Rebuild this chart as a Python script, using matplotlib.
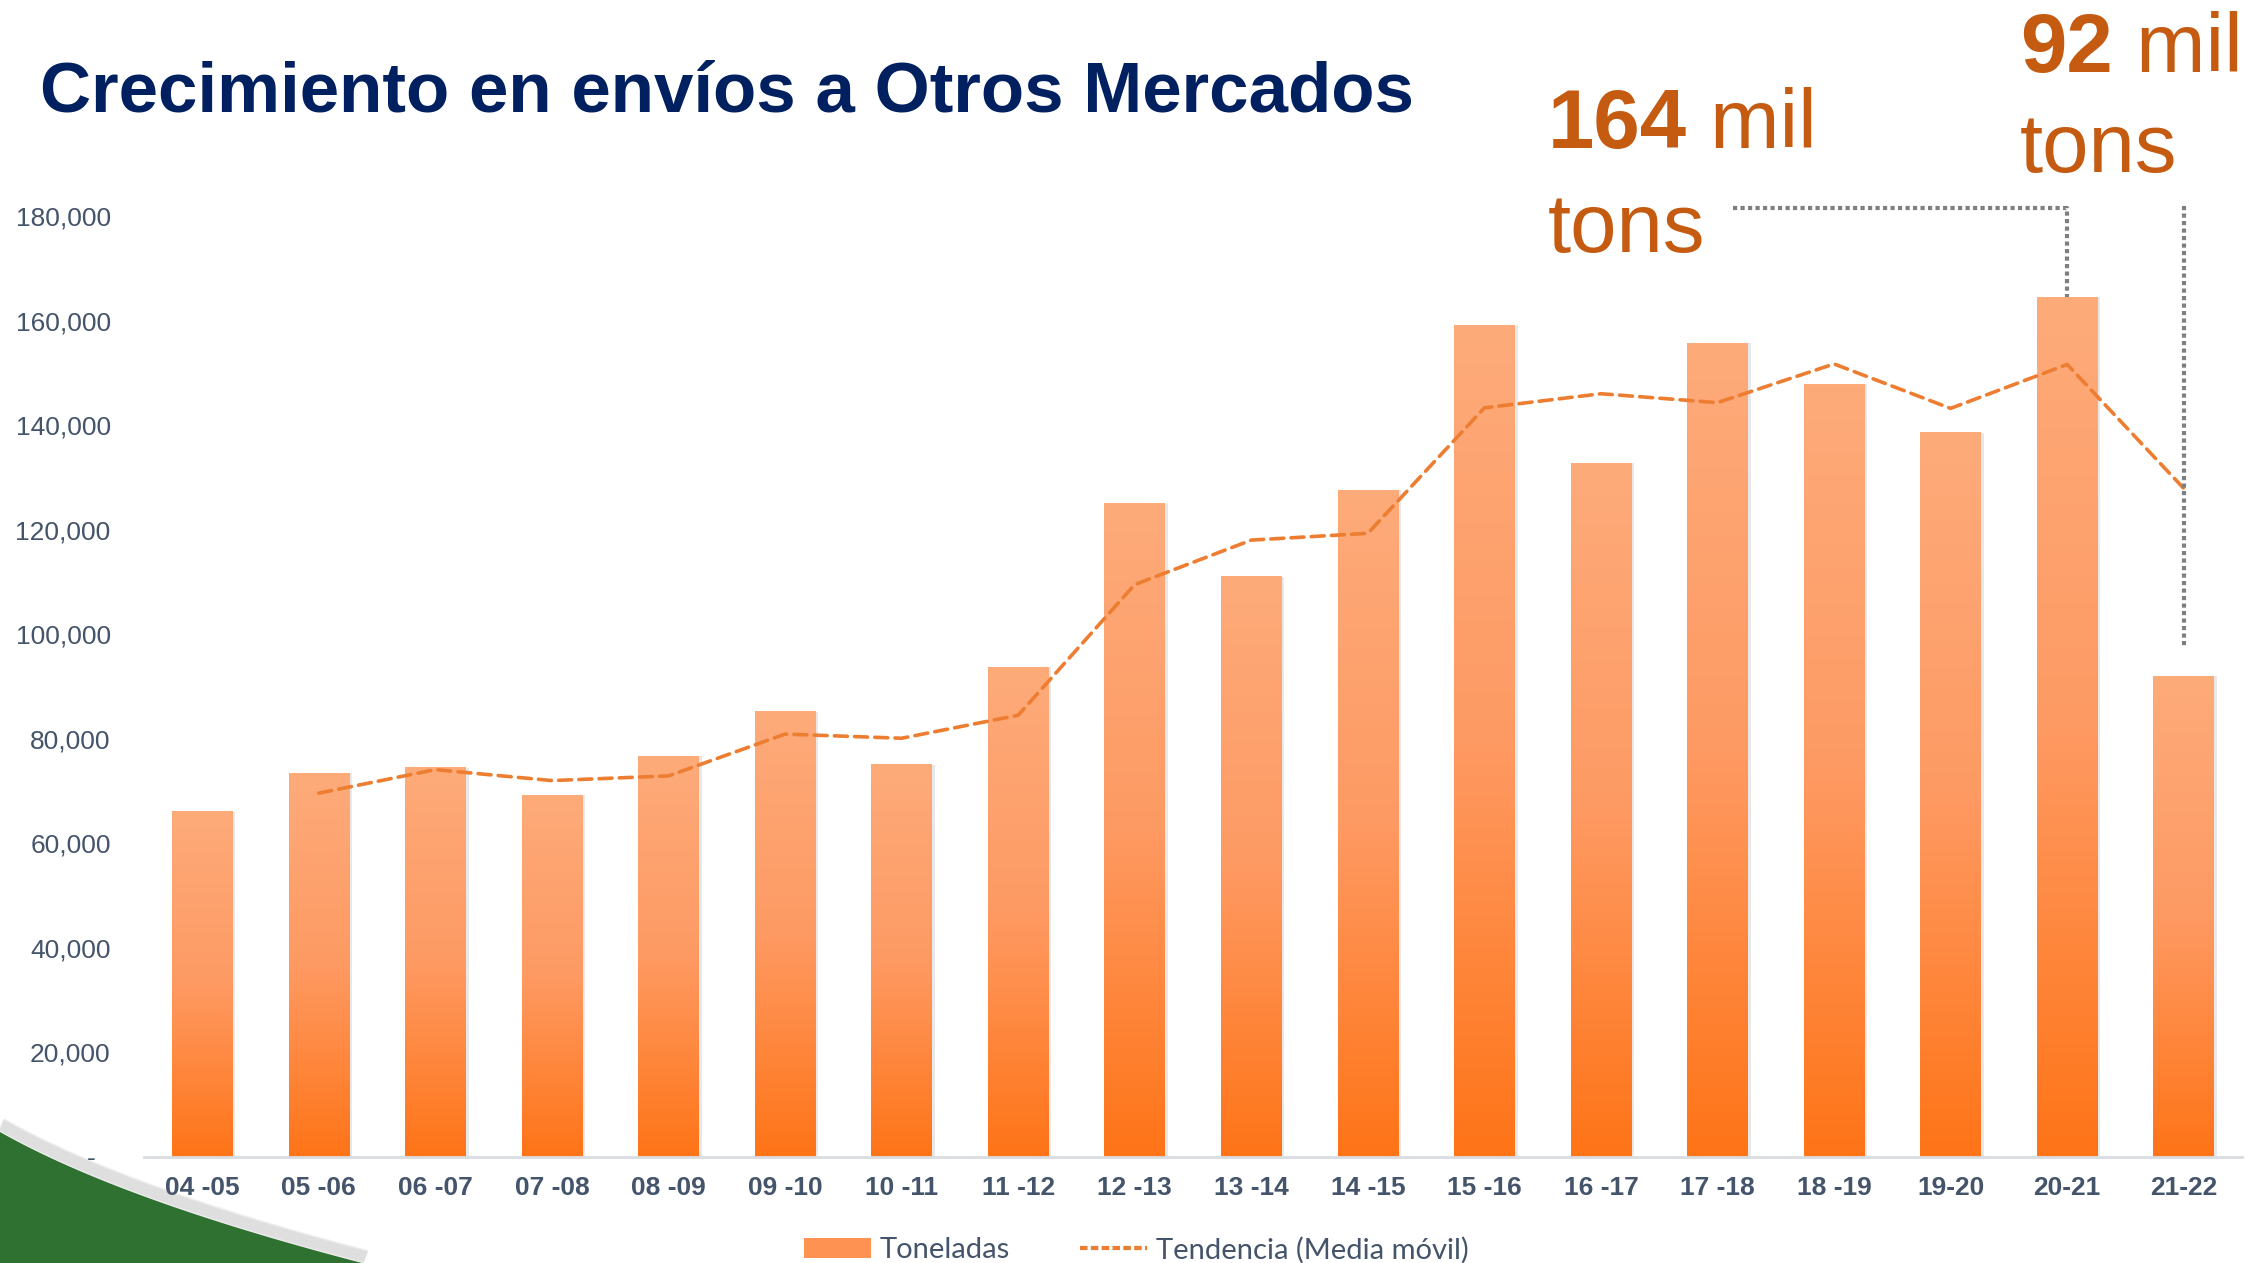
import numpy as np
import matplotlib.pyplot as plt
from matplotlib.patches import Patch, Polygon
from matplotlib.lines import Line2D
from matplotlib.colors import LinearSegmentedColormap

# -------------------------------------------------
# datos (toneladas por temporada)
# -------------------------------------------------
periodos = ['04 -05', '05 -06', '06 -07', '07 -08', '08 -09', '09 -10',
            '10 -11', '11 -12', '12 -13', '13 -14', '14 -15', '15 -16',
            '16 -17', '17 -18', '18 -19', '19-20', '20-21', '21-22']
toneladas = [66000, 73400, 74500, 69200, 76700, 85200, 75000, 93700, 125000,
             111000, 127500, 159000, 132700, 155700, 147800, 138500, 164500,
             92000]
# media movil de 2 periodos (sin valor en el primero)
tendencia = [np.nan, 69600, 74100, 72000, 72900, 80900, 80100, 84500, 109500,
             118000, 119300, 143300, 146000, 144300, 151700, 143200, 151600,
             127900]
y_ticks = [0, 20000, 40000, 60000, 80000, 100000, 120000, 140000, 160000, 180000]
y_labels = ['-  ', '20,000', '40,000', '60,000', '80,000', '100,000',
            '120,000', '140,000', '160,000', '180,000']

W, H = 2254, 1263
NAVY = '#002060'
SLATE = '#44546A'
ORANGE_TXT = '#C55A11'
LINE_ORANGE = '#ED7D31'
GRAY_DOT = '#7F7F7F'


def fx(px):
    return px / W


def fy(py):
    # pixel desde arriba -> fraccion de figura
    return 1 - py / H


fig = plt.figure(figsize=(W / 100, H / 100), dpi=100)
fig.patch.set_facecolor('white')

# -------------------------------------------------
# franja verde de la esquina inferior izquierda
# -------------------------------------------------
t = np.linspace(0, 1, 60)
p0, p1, p2 = np.array([0, 1132]), np.array([120, 1200]), np.array([362, 1263])
curve = ((1 - t)[:, None] ** 2) * p0 + (2 * (1 - t) * t)[:, None] * p1 + (t ** 2)[:, None] * p2
for k in range(12, 0, -1):
    fig.add_artist(Line2D(fx(curve[:, 0] + k * 0.4), fy(curve[:, 1] - k),
                          color='#707070', alpha=0.09, lw=2))
pts = np.vstack([curve, [[0, 1263]]])
fig.add_artist(Polygon(np.column_stack([fx(pts[:, 0]), fy(pts[:, 1])]),
                       closed=True, facecolor='#2E7130', edgecolor='none'))

# -------------------------------------------------
# ejes principales
# -------------------------------------------------
ax = fig.add_axes([fx(144), fy(1157), fx(2242 - 144), (1157 - 216) / H])
x = np.arange(len(periodos))
ancho = 0.52

cmap = LinearSegmentedColormap.from_list('naranja', ['#FF7417', '#FE9A63', '#FDAB7A'])
grad = np.linspace(0, 1, 256).reshape(-1, 1)
for xi, h in zip(x, toneladas):
    # sombra suave
    ax.bar(xi + 0.025, h, ancho, bottom=0, color='#cccccc', alpha=0.45, zorder=1)
    ax.imshow(grad, extent=[xi - ancho / 2, xi + ancho / 2, 0, h], origin='lower',
              aspect='auto', cmap=cmap, zorder=2)

ax.plot(x, tendencia, color=LINE_ORANGE, lw=2.6, dashes=(3.6, 2.0),
        dash_capstyle='round', zorder=3)

ax.set_xlim(-0.5, len(periodos) - 0.5)
ax.set_ylim(0, 180000)
ax.set_xticks(x)
ax.set_xticklabels(periodos, fontsize=19, fontweight='bold', color=SLATE,
                   family='Liberation Sans')
ax.set_yticks(y_ticks)
ax.set_yticklabels(y_labels, fontsize=19, color=SLATE, family='Liberation Sans')
ax.tick_params(axis='both', length=0)
ax.tick_params(axis='y', pad=24)
ax.tick_params(axis='x', pad=14)
for s in ['top', 'right', 'left']:
    ax.spines[s].set_visible(False)
ax.spines['bottom'].set_color('#D9DCE1')
ax.spines['bottom'].set_linewidth(2)
ax.set_facecolor('none')

# -------------------------------------------------
# lineas punteadas de referencia
# -------------------------------------------------
y_ref1 = 181500
y_ref2 = 182000
ax.plot([13.13, 16, 16], [y_ref1, y_ref1, toneladas[16]], color=GRAY_DOT, lw=3,
        dashes=(1, 0.8), clip_on=False, zorder=4)
ax.plot([17, 17], [y_ref2, 97500], color=GRAY_DOT, lw=3, dashes=(1, 0.8),
        clip_on=False, zorder=4)

# -------------------------------------------------
# textos
# -------------------------------------------------
fig.text(fx(40), fy(112), 'Crecimiento en envíos a Otros Mercados', fontsize=51,
         fontweight='bold', color=NAVY, family='Liberation Sans', va='baseline')

for num, xpx, ypx1, ypx2 in [('164', 1548, 148, 252), ('92', 2020, 72, 172)]:
    t1 = fig.text(fx(xpx), fy(ypx1), num, fontsize=60, fontweight='bold',
                  color=ORANGE_TXT, family='Liberation Sans', va='baseline')
    fig.text(fx(xpx), fy(ypx2), 'tons', fontsize=60, color=ORANGE_TXT,
             family='Liberation Sans', va='baseline')
    ax.annotate(' mil', xy=(1, 0), xycoords=t1, fontsize=60, color=ORANGE_TXT,
                family='Liberation Sans', ha='left', va='bottom',
                annotation_clip=False)

# -------------------------------------------------
# leyenda
# -------------------------------------------------
handles = [Patch(facecolor='#FE9252', edgecolor='none'),
           Line2D([], [], color=LINE_ORANGE, lw=3, dashes=(1.8, 0.8))]
fig.legend(handles, ['Toneladas', 'Tendencia (Media móvil)'], loc='center',
           bbox_to_anchor=(fx(1136), fy(1250)), ncol=2, frameon=False,
           prop={'family': 'Lato', 'size': 21}, labelcolor=SLATE,
           handlelength=2.3, handleheight=0.7, columnspacing=2.4,
           handletextpad=0.3)

fig.savefig('out.png', dpi=100, facecolor='white')
